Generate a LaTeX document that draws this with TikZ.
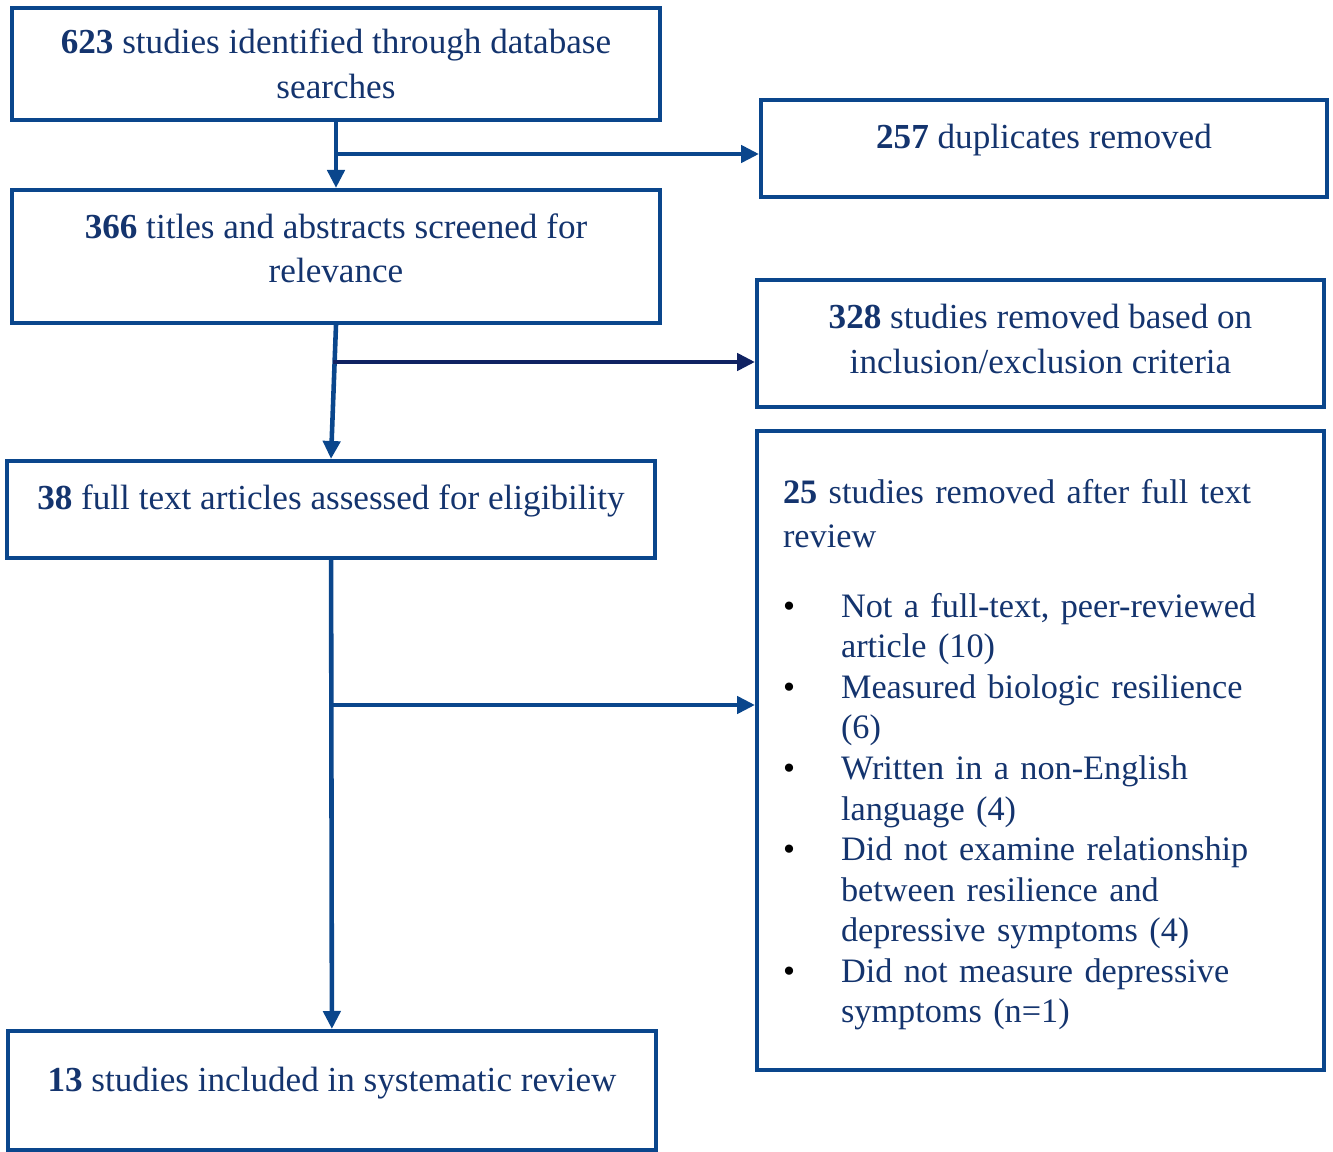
\documentclass[tikz,border=0pt]{standalone}
\usepackage{fontspec}
\setmainfont{Liberation Serif}
\usepackage{enumitem}
\usetikzlibrary{arrows.meta,positioning}
\definecolor{flowline}{RGB}{10,70,140}
\definecolor{flowtext}{RGB}{20,52,110}
\definecolor{flownavy}{RGB}{16,34,98}
\tikzset{
  stage/.style={draw=flowline, line width=2.3pt, text=flowtext, align=center,
    font=\fontsize{20}{25.5}\selectfont, inner sep=0pt},
  wide/.style={minimum width=12.96cm},
  flow/.style={draw=flowline, line width=2.6pt,
    -{Triangle[length=0.36cm,width=0.34cm]}}
}

\begin{document}
\begin{tikzpicture}[x=0.02cm, y=-0.02cm]
\useasboundingbox (0,0) rectangle (1333,1152);
% left column
\node[stage, wide, minimum height=2.24cm, text depth=0pt] (ident) at (336,64)
  {\textbf{623} studies identified through database\\searches};
\node[stage, wide, minimum height=2.66cm, text depth=9.5pt] (screen) at (336,256.5)
  {\textbf{366} titles and abstracts screened for\\relevance};
\node[stage, wide, minimum height=1.94cm, text depth=14pt] (elig) at (331,509.5)
  {\textbf{38} full text articles assessed for eligibility};
\node[stage, wide, minimum height=2.38cm, text depth=12.9pt] (incl) at (332,1090.5)
  {\textbf{13} studies included in systematic review};
% right column
\node[stage, minimum width=11.32cm, minimum height=1.94cm, text depth=14pt] (dup) at (1044,148.5)
  {\textbf{257} duplicates removed};
\node[stage, minimum width=11.34cm, minimum height=2.54cm, text depth=5.5pt] (crit) at (1040.5,343.5)
  {\textbf{328} studies removed based on\\inclusion/exclusion criteria};
\node[stage, minimum width=11.34cm, minimum height=12.78cm, text width=10.3cm, align=left,
  font=\fontsize{19.5}{24.8}\selectfont] (full) at (1040.5,750.5)
  {\raggedright\rule{0pt}{19pt}\textbf{25} studies removed after full text\newline review\par
   \vspace{16.5pt}
   {\fontsize{19.5}{23.1}\selectfont
   \begin{itemize}[label={\color{black}\textbullet}, align=left, leftmargin=1.16cm,
     labelwidth=1.16cm, labelsep=0pt, labelindent=0pt, topsep=0pt, partopsep=0pt,
     itemsep=0pt, parsep=0pt]
   \item Not a full-text, peer-reviewed\newline article (10)
   \item Measured biologic resilience\newline (6)
   \item Written in a non-English\newline language (4)
   \item Did not examine relationship\newline between resilience and\newline depressive symptoms (4)
   \item Did not measure depressive\newline symptoms (n=1)
   \end{itemize}\par}};
% connectors
\draw[flow] (ident) -- (screen);
\coordinate (dupfork) at (336,154);
\draw[flow] (dupfork) -- (dupfork -| dup.west);
\draw[flow] (screen.south) -- (elig.north);
\coordinate (critfork) at (333,362);
\draw[flow, draw=flownavy] (critfork) -- (critfork -| crit.west);
\draw[flow] (elig) -- (incl);
\coordinate (fullfork) at (331,705);
\draw[flow] (fullfork) -- (fullfork -| full.west);
\end{tikzpicture}
\end{document}
